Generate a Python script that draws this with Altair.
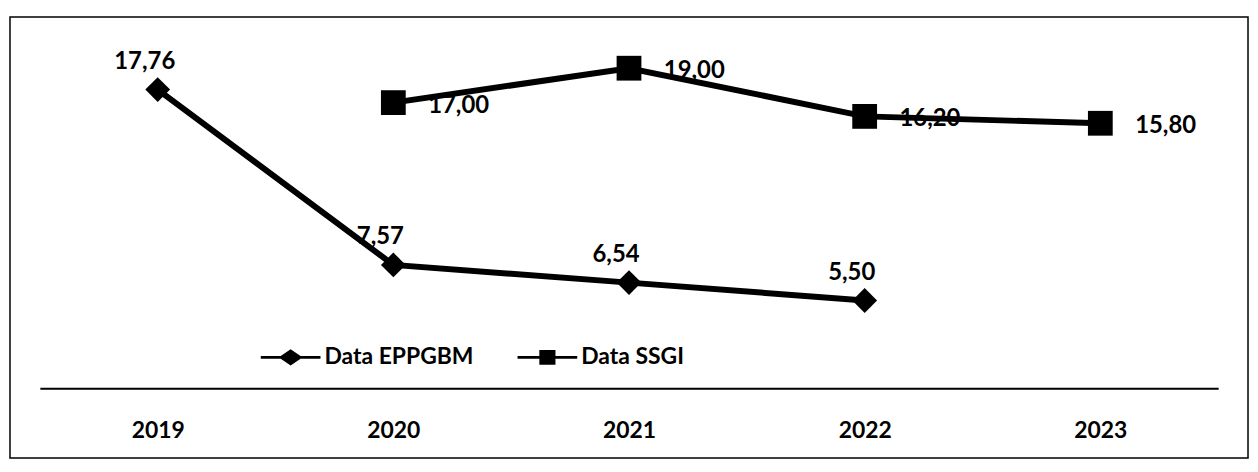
import altair as alt
import pandas as pd

years = ["2019", "2020", "2021", "2022", "2023"]
series_names = ["Data EPPGBM", "Data SSGI"]
eppgbm_years = ["2019", "2020", "2021", "2022"]
eppgbm_values = [17.76, 7.57, 6.54, 5.50]
ssgi_years = ["2020", "2021", "2022", "2023"]
ssgi_values = [17.00, 19.00, 16.20, 15.80]

rows = []
for yr, v in zip(eppgbm_years, eppgbm_values):
    rows.append({"year": yr, "value": v, "series": series_names[0],
                 "label": f"{v:.2f}".replace(".", ",")})
for yr, v in zip(ssgi_years, ssgi_values):
    rows.append({"year": yr, "value": v, "series": series_names[1],
                 "label": f"{v:.2f}".replace(".", ",")})
df = pd.DataFrame(rows)

FONT = "Lato"

x = alt.X("year:O",
          scale=alt.Scale(domain=years, type="point", padding=0.5),
          axis=alt.Axis(title=None, labelAngle=0, ticks=False, grid=False,
                        domainColor="black", domainWidth=2,
                        labelFont=FONT, labelFontWeight="bold", labelFontSize=23,
                        labelColor="black", labelPadding=31))
y = alt.Y("value:Q", scale=alt.Scale(domain=[0.4, 21.8], nice=False, zero=False), axis=None)

base = alt.Chart(df)

border = alt.Chart(pd.DataFrame({"a": [0]})).mark_rect(
    fillOpacity=0, stroke="black", strokeWidth=1.5
).encode(x=alt.value(-30), x2=alt.value(1214), y=alt.value(-3), y2=alt.value(440))

lines = base.mark_line(color="black", strokeWidth=6).encode(x=x, y=y, detail="series:N")

points = base.mark_point(filled=True, color="black", opacity=1, size=620).encode(
    x=x, y=y,
    shape=alt.Shape("series:N",
                    scale=alt.Scale(domain=series_names, range=["diamond", "square"]),
                    legend=None))

labels_e = base.transform_filter(alt.datum.series == series_names[0]).mark_text(
    font=FONT, fontWeight="bold", fontSize=24, color="black",
    align="center", baseline="middle", dx=-13, dy=-28
).encode(x=x, y=y, text="label:N")

labels_s = base.transform_filter(alt.datum.series == series_names[1]).mark_text(
    font=FONT, fontWeight="bold", fontSize=24, color="black",
    align="left", baseline="middle", dx=35, dy=3
).encode(x=x, y=y, text="label:N")

path_diamond = ("M-1,-0.045H-0.333L0,-0.27L0.333,-0.045H1V0.045H0.333L0,0.27"
                "L-0.333,0.045H-1Z")
path_square = ("M-1,-0.045H-0.27V-0.25H0.27V-0.045H1V0.045H0.27V0.25H-0.27"
               "V0.045H-1Z")

legend_layer = base.transform_filter("false").mark_point(
    filled=True, color="black", opacity=1
).encode(
    x=x, y=y,
    shape=alt.Shape("series:N",
                    scale=alt.Scale(domain=series_names, range=[path_diamond, path_square]),
                    legend=alt.Legend(title=None, orient="none", legendX=222, legendY=309,
                                      direction="horizontal", symbolSize=3600,
                                      symbolFillColor="black", symbolStrokeColor="black",
                                      symbolStrokeWidth=0, symbolOpacity=1,
                                      labelFont=FONT, labelFontWeight="bold",
                                      labelFontSize=23, labelColor="black",
                                      labelOffset=4, columnPadding=44)))

chart = alt.layer(border, lines, points, labels_e, labels_s, legend_layer).resolve_scale(
    shape="independent"
).properties(
    width=1184, height=370,
    autosize=alt.AutoSizeParams(type="none"),
    padding={"left": 32, "top": 11, "right": 32, "bottom": 70},
    background="white"
).configure_view(strokeWidth=0)

chart.save("out.html", embed_options={"renderer": "svg", "actions": False})
